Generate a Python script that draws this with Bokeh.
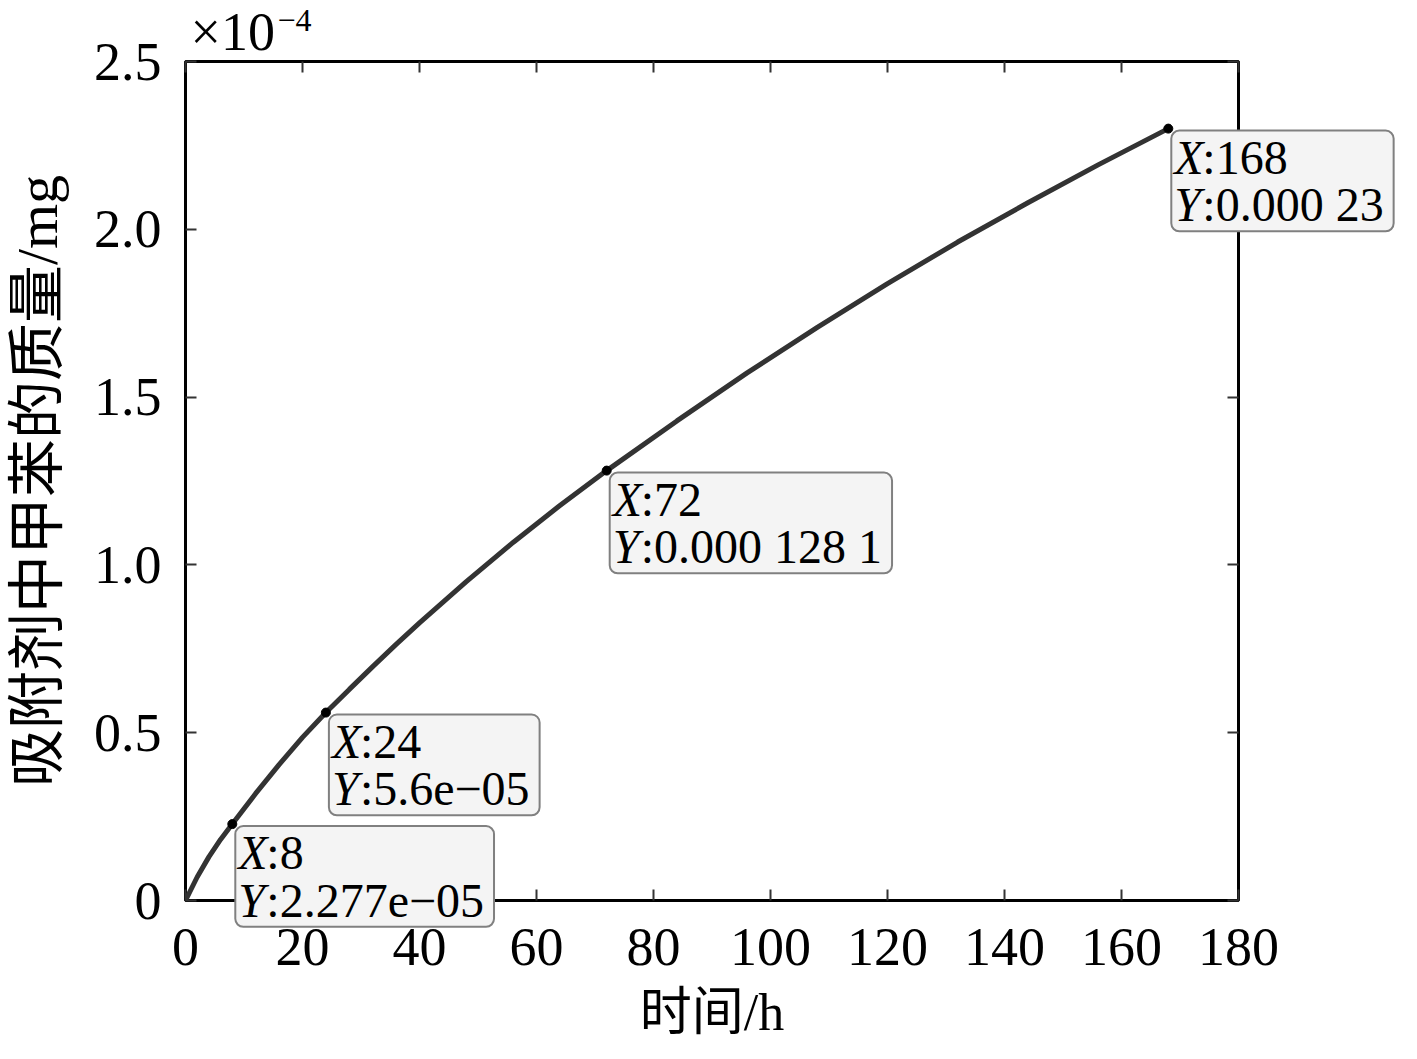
import math
from bokeh.plotting import figure
from bokeh.models import LinearAxis, FixedTicker, CustomJSTickFormatter, Range1d, ColumnDataSource
from bokeh.core.properties import value
from bokeh.embed import file_html
from bokeh.resources import INLINE

# ---------------- data ----------------
time_h = [0, 2, 4, 6, 8, 12, 16, 20, 24, 28, 32, 36, 40, 48, 56, 64, 72,
          84, 96, 108, 120, 132, 144, 156, 168]
# adsorbed toluene mass, in units of 1e-4 mg
mass_e4 = [0, 0.07, 0.13, 0.182, 0.2277, 0.319, 0.405, 0.486, 0.56, 0.629, 0.697,
           0.763, 0.827, 0.950, 1.067, 1.177, 1.281, 1.429, 1.572, 1.708, 1.838,
           1.962, 2.079, 2.192, 2.30]

tip_x = [8, 24, 72, 168]
tip_y = [0.2277, 0.56, 1.281, 2.30]
tip_x_text = ["8", "24", "72", "168"]
tip_y_text = ["2.277e\u221205", "5.6e\u221205", "0.000 128 1", "0.000 23"]

x_ticks = [0, 20, 40, 60, 80, 100, 120, 140, 160, 180]
y_ticks = [0, 0.5, 1.0, 1.5, 2.0, 2.5]

x_title = "时间/h"
y_title = "吸附剂中甲苯的质量/mg"
exp_base = "\u00d710"
exp_power = "\u22124"

SERIF = "Liberation Serif"
MIXED = "Liberation Serif, Noto Sans CJK SC"

# ---------------- figure ----------------
p = figure(width=1401, height=1043, output_backend="svg", toolbar_location=None,
           x_range=Range1d(0, 180), y_range=Range1d(0, 2.5),
           min_border_left=185, min_border_right=163, min_border_top=61, min_border_bottom=143)
p.background_fill_color = "white"
p.border_fill_color = "white"
p.outline_line_color = "black"
p.outline_line_width = 3
p.grid.visible = False

def style_axis(ax, ticks, show_labels, fmt_code):
    ax.ticker = FixedTicker(ticks=ticks)
    ax.formatter = CustomJSTickFormatter(code=fmt_code)
    ax.axis_line_color = None
    ax.major_tick_in = 11
    ax.major_tick_out = 0
    ax.major_tick_line_color = "#333333"
    ax.major_tick_line_width = 2
    ax.minor_tick_line_color = None
    ax.major_label_text_font = SERIF
    ax.major_label_text_font_size = "54px"
    ax.major_label_text_color = "black"
    if not show_labels:
        ax.major_label_text_font_size = "0px"
        ax.major_label_standoff = 0

x_fmt = "return tick.toFixed(0);"
y_fmt = "return tick == 0 ? '0' : tick.toFixed(1);"
empty_fmt = "return '';"

style_axis(p.xaxis[0], x_ticks, True, x_fmt)
style_axis(p.yaxis[0], y_ticks, True, y_fmt)
p.xaxis[0].major_label_standoff = 28
p.yaxis[0].major_label_standoff = 24

top_ax = LinearAxis()
right_ax = LinearAxis()
style_axis(top_ax, x_ticks, False, empty_fmt)
style_axis(right_ax, y_ticks, False, empty_fmt)
p.add_layout(top_ax, "above")
p.add_layout(right_ax, "right")

# ---------------- curve ----------------
p.line(time_h, mass_e4, line_color="#333333", line_width=5)
p.scatter(tip_x, tip_y, size=9, fill_color="black", line_color="black")

# ---------------- datatips ----------------
GAP = "\u2002\u200a"
tips = ColumnDataSource(dict(
    x=tip_x, y=tip_y,
    body=[GAP + ":" + xs + "\n" + GAP + ":" + ys for xs, ys in zip(tip_x_text, tip_y_text)],
    letters=["X\nY"] * len(tip_x),
))
p.text(x="x", y="y", text="body", source=tips, x_offset=3, y_offset=2,
       text_font=value(SERIF), text_font_size="48px", text_color="black",
       text_align="left", text_baseline="top", text_line_height=0.9,
       background_fill_color="#f4f4f4", border_line_color="#808080",
       border_line_width=2, padding=dict(left=3, right=10, top=0, bottom=0),
       border_radius=8, level="overlay")
p.text(x="x", y="y", text="letters", source=tips, x_offset=6, y_offset=2,
       text_font=value(SERIF), text_font_size="48px", text_color="black",
       text_font_style="italic", text_align="left", text_baseline="top",
       text_line_height=0.9, level="overlay")

# ---------------- exponent ----------------
corner = ColumnDataSource(dict(x=[0], y=[2.5], base=[exp_base], power=[exp_power]))
p.text(x="x", y="y", text="base", source=corner, x_offset=5, y_offset=-30,
       text_font=value(SERIF), text_font_size="54px", text_color="black",
       text_align="left", text_baseline="middle", level="overlay")
p.text(x="x", y="y", text="power", source=corner, x_offset=92, y_offset=-41,
       text_font=value(SERIF), text_font_size="32px", text_color="black",
       text_align="left", text_baseline="middle", level="overlay")

# ---------------- axis titles ----------------
titles_x = ColumnDataSource(dict(x=[90], y=[0], t=[x_title]))
titles_y = ColumnDataSource(dict(x=[0], y=[1.25], t=[y_title]))
p.text(x="x", y="y", text="t", source=titles_x, y_offset=112,
       text_font=value(MIXED), text_font_size="52px", text_color="black",
       text_align="center", text_baseline="middle", level="overlay")
p.text(x="x", y="y", text="t", source=titles_y, x_offset=-148, angle=math.pi / 2,
       text_font=value(MIXED), text_font_size="58px", text_color="black",
       text_align="center", text_baseline="middle", level="overlay")

open("out.html", "w").write(file_html(p, INLINE))
